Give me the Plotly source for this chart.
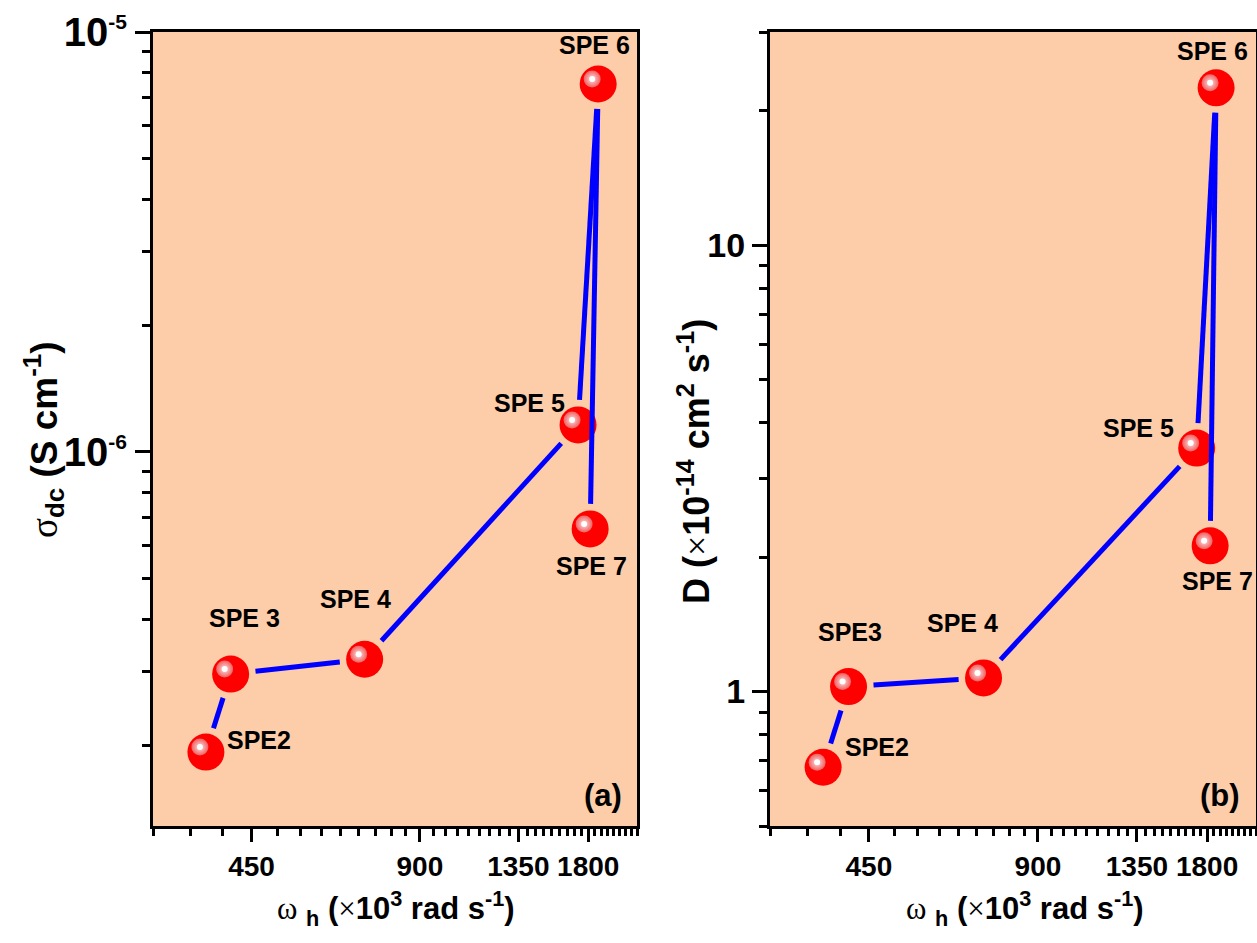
import numpy as np
import plotly.graph_objects as go

# ---------------- data ----------------
samples_a = ["SPE2", "SPE 3", "SPE 4", "SPE 5", "SPE 6", "SPE 7"]
omega_a = [373, 413, 717, 1726, 1875, 1814]          # x10^3 rad s^-1
sigma_dc = [1.93e-7, 2.96e-7, 3.21e-7, 1.16e-6, 7.52e-6, 6.56e-7]  # S cm^-1

samples_b = ["SPE2", "SPE3", "SPE 4", "SPE 5", "SPE 6", "SPE 7"]
omega_b = [373, 414, 720, 1725, 1868, 1823]
D_vals = [0.677, 1.026, 1.073, 3.51, 22.5, 2.12]     # x10^-14 cm^2 s^-1

x_ticks = [450, 900, 1350, 1800]
x_tick_text = ["450", "900", "1350", "1800"]
x_minor = list(range(300, 2201, 50))
ya_ticks = [1e-6, 1e-5]
ya_tick_text = ['10<sup><span style="font-size:21px">-6</span></sup>',
                '10<sup><span style="font-size:21px">-5</span></sup>']
ya_minor = [m * 1e-7 for m in range(2, 10)] + [m * 1e-6 for m in range(2, 10)]
yb_ticks = [1, 10]
yb_tick_text = ["1", "10"]
yb_minor = [0.5, 0.6, 0.7, 0.8, 0.9] + list(range(2, 10)) + [20, 30]

# ---------------- layout geometry (pixels) ----------------
W, H = 1257, 943
TOP, BOT = 32, 826
PA = (153, 637)
PB = (770, 1256)
XR = [np.log10(300), np.log10(2200)]
YRA = [-6.8905, -5.0]
YRB = [np.log10(0.5), np.log10(30)]

BG = "#FDCDAA"
FONT = "Liberation Sans, Arial, sans-serif"

def to_px(v, lo, hi, p0, p1):
    return p0 + (np.log10(v) - lo) / (hi - lo) * (p1 - p0)

def from_px(p, lo, hi, p0, p1):
    return 10 ** (lo + (p - p0) / (p1 - p0) * (hi - lo))

def panel(xs, ys, pxr, yr, gap=25.0, hl=(-6, -5)):
    px = [to_px(v, XR[0], XR[1], pxr[0], pxr[1]) for v in xs]
    py = [to_px(v, yr[0], yr[1], BOT, TOP) for v in ys]
    lx, ly = [], []
    for i in range(len(xs) - 1):
        dx, dy = px[i + 1] - px[i], py[i + 1] - py[i]
        d = np.hypot(dx, dy)
        f = gap / d
        sx, sy = px[i] + dx * f, py[i] + dy * f
        ex, ey = px[i + 1] - dx * f, py[i + 1] - dy * f
        lx += [from_px(sx, XR[0], XR[1], pxr[0], pxr[1]), from_px(ex, XR[0], XR[1], pxr[0], pxr[1]), None]
        ly += [from_px(sy, yr[0], yr[1], BOT, TOP), from_px(ey, yr[0], yr[1], BOT, TOP), None]
    hx = [from_px(p + hl[0], XR[0], XR[1], pxr[0], pxr[1]) for p in px]
    hy = [from_px(p + hl[1], yr[0], yr[1], BOT, TOP) for p in py]
    return lx, ly, hx, hy

fig = go.Figure()

def add_panel(xs, ys, pxr, yr, xa, ya):
    lx, ly, hx, hy = panel(xs, ys, pxr, yr)
    fig.add_trace(go.Scatter(x=xs, y=ys, mode="markers", xaxis=xa, yaxis=ya,
                             marker=dict(size=37, color="#FF0000", line=dict(width=0)),
                             hoverinfo="skip", showlegend=False))
    fig.add_trace(go.Scatter(x=hx, y=hy, mode="markers", xaxis=xa, yaxis=ya,
                             marker=dict(size=17, color="#F06060",
                                         gradient=dict(type="radial", color="#FFE0E0"),
                                         line=dict(width=0)),
                             hoverinfo="skip", showlegend=False))
    fig.add_trace(go.Scatter(x=hx, y=hy, mode="markers", xaxis=xa, yaxis=ya,
                             marker=dict(size=6, color="#FFFFFF", line=dict(width=0)),
                             hoverinfo="skip", showlegend=False))
    fig.add_trace(go.Scatter(x=lx, y=ly, mode="lines", xaxis=xa, yaxis=ya,
                             line=dict(color="#0000FF", width=5), connectgaps=False,
                             hoverinfo="skip", showlegend=False))

add_panel(omega_a, sigma_dc, PA, YRA, "x", "y")
add_panel(omega_b, D_vals, PB, YRB, "x2", "y2")

# point labels (offsets in px)
shift_a = [(53, 12), (14, 56), (-9, 60), (-49, 22), (-4, 39), (1, -37)]
shift_b = [(54, 20), (1, 55), (-21, 55), (-58, 20), (-4, 37), (7, -35)]
ann = []
lab_font = dict(family=FONT, size=25, color="black", weight="bold")
for s, xv, yv, (dx, dy) in zip(samples_a, omega_a, sigma_dc, shift_a):
    ann.append(dict(x=np.log10(xv), y=np.log10(yv), xref="x", yref="y", text=s, showarrow=False,
                    xshift=dx, yshift=dy, font=lab_font))
for s, xv, yv, (dx, dy) in zip(samples_b, omega_b, D_vals, shift_b):
    ann.append(dict(x=np.log10(xv), y=np.log10(yv), xref="x2", yref="y2", text=s, showarrow=False,
                    xshift=dx, yshift=dy, font=lab_font))

def P(xp, yp):
    return xp / W, 1 - yp / H

sym = '<span style="font-family:Liberation Serif;font-weight:normal">%s</span>'
xt = (sym % "ω") + ' <sub>h</sub> (' + (sym % "×") + '10<sup>3</sup> rad s<sup>-1</sup>)'
for xp in (396, 1025):
    x, y = P(xp, 908)
    ann.append(dict(x=x, y=y, xref="paper", yref="paper", text=xt, showarrow=False,
                    xanchor="center", yanchor="middle",
                    font=dict(family=FONT, size=31, color="black", weight="bold")))
x, y = P(44, 440)
ann.append(dict(x=x, y=y, xref="paper", yref="paper", showarrow=False, textangle=-90,
                text=(sym % "σ") + '<sub>dc</sub> (S cm<sup>-1</sup>)',
                xanchor="center", yanchor="middle",
                font=dict(family=FONT, size=37, color="black", weight="bold")))
x, y = P(694, 462)
ann.append(dict(x=x, y=y, xref="paper", yref="paper", showarrow=False, textangle=-90,
                text='D (' + (sym % "×") + '10<sup>-14</sup> cm<sup>2</sup> s<sup>-1</sup>)',
                xanchor="center", yanchor="middle",
                font=dict(family=FONT, size=36, color="black", weight="bold")))
for lab, xp in (("(a)", 603), ("(b)", 1220)):
    x, y = P(xp, 795)
    ann.append(dict(x=x, y=y, xref="paper", yref="paper", text=lab, showarrow=False,
                    xanchor="center", yanchor="middle",
                    font=dict(family=FONT, size=31, color="black", weight="bold")))

xcommon = dict(type="log", range=XR, tickmode="array", tickvals=x_ticks, ticktext=x_tick_text,
               ticks="outside", ticklen=13, tickwidth=3, tickcolor="black", automargin=False,
               showline=True, linewidth=3, linecolor="black", mirror=True, showgrid=False,
               zeroline=False, tickfont=dict(family=FONT, size=28, color="black", weight="bold"),
               minor=dict(tickmode="array", tickvals=x_minor, ticks="outside", ticklen=7,
                          tickwidth=2.5, tickcolor="black", showgrid=False))
ycommon = dict(type="log", tickmode="array", ticks="outside", ticklen=15, tickwidth=3,
               tickcolor="black", showline=True, linewidth=3, linecolor="black", mirror=True,
               showgrid=False, zeroline=False, automargin=False)

ydom = [1 - BOT / H, 1 - TOP / H]
fig.update_layout(
    width=W, height=H, margin=dict(l=0, r=0, t=0, b=0, autoexpand=False),
    paper_bgcolor="white", plot_bgcolor=BG,
    xaxis=dict(domain=[PA[0] / W, PA[1] / W], anchor="y", **xcommon),
    xaxis2=dict(domain=[PB[0] / W, PB[1] / W], anchor="y2", **xcommon),
    yaxis=dict(domain=ydom, anchor="x", range=YRA, tickvals=ya_ticks, ticktext=ya_tick_text,
               tickfont=dict(family=FONT, size=40, color="black", weight="bold"),
               minor=dict(tickmode="array", tickvals=ya_minor, ticks="outside", ticklen=8,
                          tickwidth=2.5, tickcolor="black", showgrid=False), **ycommon),
    yaxis2=dict(domain=ydom, anchor="x2", range=YRB, tickvals=yb_ticks, ticktext=yb_tick_text,
                tickfont=dict(family=FONT, size=34, color="black", weight="bold"),
                minor=dict(tickmode="array", tickvals=yb_minor, ticks="outside", ticklen=8,
                           tickwidth=2.5, tickcolor="black", showgrid=False), **ycommon),
    annotations=ann,
)
fig.add_shape(type="rect", xref="x2 domain", yref="y2 domain", x0=0, x1=1, y0=0, y1=1,
              fillcolor=BG, line=dict(width=0), layer="below")

fig.write_html("out.html")
